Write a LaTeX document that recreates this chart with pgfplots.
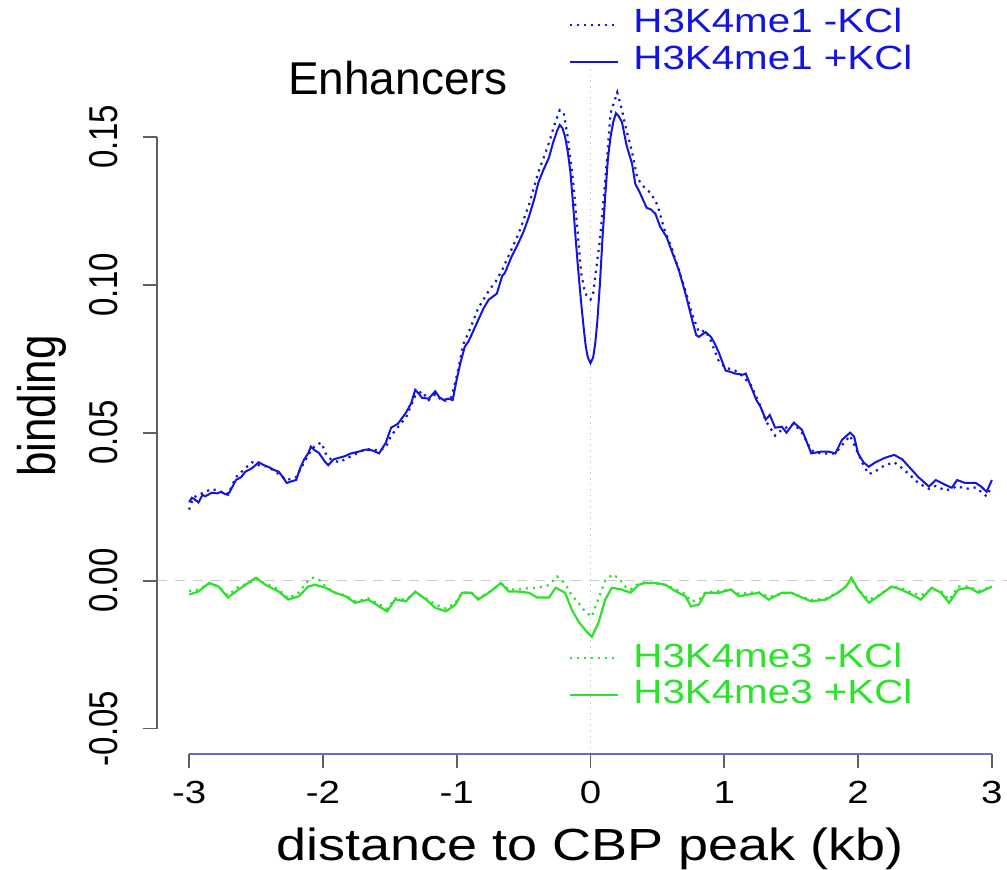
\documentclass[border=0pt]{standalone}
\usepackage{fontspec}
\setmainfont{Liberation Sans}
\newfontfamily\rfont[FakeStretch=1.2]{Liberation Sans}
\usepackage{pgfplots}
\pgfplotsset{compat=1.18}
\definecolor{hblue}{RGB}{20,20,225}
\definecolor{hgreen}{RGB}{45,225,45}
\definecolor{xaxcol}{RGB}{105,105,205}
\definecolor{yaxcol}{RGB}{95,95,95}
\begin{document}
\begin{tikzpicture}
\begin{axis}[
  at={(78.5pt,57.5pt)}, anchor=south west,
  scale only axis, width=433.5pt, height=343.5pt,
  xmin=-3.24, xmax=3.24, ymin=-0.0586, ymax=0.1736,
  clip=false,
  axis x line*=bottom, axis y line*=left,
  axis line style={draw=none},
  xtick={-3,...,3}, xticklabels={-3,-2,-1,0,1,2,3},
  ytick={-0.05,0,0.05,0.1,0.15}, yticklabels={-0.05,0.00,0.05,0.10,0.15},
  tick align=outside, major tick length=7pt,
  tick style={yaxcol, line width=0.9pt},
  xticklabel style={font=\rfont\fontsize{16}{16}\selectfont, anchor=north, inner sep=0pt, yshift=-6.5pt},
  yticklabel style={font=\fontsize{16.5}{16.5}\selectfont, xshift=-12.5pt, xscale=1.22, rotate=90, anchor=south, inner sep=0pt},
]
% reference lines
\draw[gray!40, dash pattern=on 5pt off 4pt, line width=0.6pt] (axis cs:-3.24,0) -- (axis cs:3.24,0);
\draw[gray!40, dotted, line width=0.8pt] (axis cs:0,-0.0586) -- (axis cs:0,0.1736);
% R style axis lines
\draw[yaxcol, line width=1pt] (axis cs:-3.24,-0.05) -- (axis cs:-3.24,0.15);
\draw[xaxcol, line width=1pt] (axis cs:-3,-0.0586) -- (axis cs:3,-0.0586);

% H3K4me1 +KCl
\addplot[hblue, line width=1pt] coordinates {
(-3.00,0.0265) (-2.98,0.028) (-2.96,0.0275) (-2.93,0.0264) (-2.90,0.029) (-2.88,0.0285)
(-2.83,0.0297) (-2.79,0.0295) (-2.76,0.030) (-2.73,0.0292) (-2.70,0.0297) (-2.65,0.034)
(-2.61,0.035) (-2.58,0.0368) (-2.53,0.038) (-2.48,0.040) (-2.44,0.039) (-2.41,0.0385)
(-2.37,0.0375) (-2.33,0.0368) (-2.30,0.035) (-2.27,0.033) (-2.24,0.0335) (-2.20,0.034)
(-2.17,0.038) (-2.14,0.041) (-2.11,0.043) (-2.09,0.0453) (-2.06,0.044) (-2.03,0.0432)
(-1.99,0.0405) (-1.96,0.039) (-1.92,0.041) (-1.88,0.0415) (-1.84,0.042) (-1.79,0.043)
(-1.74,0.0435) (-1.68,0.0443) (-1.63,0.044) (-1.58,0.043) (-1.53,0.0466) (-1.49,0.0517)
(-1.44,0.053) (-1.38,0.0567) (-1.34,0.060) (-1.31,0.0645) (-1.28,0.063) (-1.26,0.0618)
(-1.21,0.0615) (-1.16,0.064) (-1.13,0.062) (-1.10,0.0611) (-1.06,0.0615) (-1.03,0.061)
(-1.00,0.068) (-0.97,0.074) (-0.94,0.079) (-0.91,0.081) (-0.87,0.085) (-0.84,0.088)
(-0.80,0.092) (-0.76,0.095) (-0.73,0.096) (-0.70,0.097) (-0.68,0.100) (-0.66,0.103)
(-0.64,0.104) (-0.59,0.1095) (-0.54,0.114) (-0.50,0.118) (-0.46,0.123) (-0.42,0.129)
(-0.39,0.1345) (-0.35,0.139) (-0.31,0.143) (-0.28,0.148) (-0.25,0.152) (-0.23,0.154)
(-0.21,0.153) (-0.19,0.150) (-0.17,0.145) (-0.15,0.138) (-0.13,0.127) (-0.11,0.115)
(-0.09,0.104) (-0.07,0.094) (-0.05,0.085) (-0.035,0.079) (-0.02,0.0755) (0.00,0.0735)
(0.02,0.0755) (0.035,0.080) (0.05,0.087) (0.07,0.100) (0.09,0.116) (0.11,0.130) (0.13,0.1425)
(0.15,0.150) (0.17,0.155) (0.19,0.158) (0.21,0.157) (0.235,0.155) (0.27,0.147)
(0.31,0.141) (0.335,0.134) (0.36,0.132) (0.38,0.130) (0.42,0.126) (0.45,0.1255)
(0.485,0.124) (0.52,0.1197) (0.57,0.116) (0.61,0.111) (0.66,0.105) (0.71,0.097)
(0.76,0.088) (0.79,0.083) (0.81,0.0824) (0.86,0.084) (0.90,0.0824) (0.93,0.080)
(0.96,0.077) (1.01,0.071) (1.05,0.0705) (1.08,0.070) (1.14,0.0696) (1.16,0.070)
(1.20,0.0655) (1.24,0.061) (1.27,0.0588) (1.31,0.0544) (1.34,0.056) (1.38,0.0517)
(1.43,0.052) (1.465,0.050) (1.52,0.0534) (1.58,0.051) (1.61,0.0476) (1.65,0.043)
(1.72,0.0436) (1.78,0.0436) (1.83,0.043) (1.88,0.0476) (1.94,0.050) (1.97,0.0487)
(2.00,0.043) (2.04,0.040) (2.08,0.0385) (2.13,0.040) (2.20,0.0415) (2.27,0.0425)
(2.33,0.041) (2.38,0.0385) (2.45,0.035) (2.53,0.0318) (2.58,0.034) (2.65,0.0324)
(2.70,0.0314) (2.74,0.034) (2.80,0.033) (2.88,0.033) (2.92,0.0318) (2.96,0.030)
(3.00,0.034)
};
% H3K4me1 -KCl
\addplot[hblue, line width=1.1pt, dash pattern=on 1.1pt off 2.4pt] coordinates {
(-3.00,0.024) (-2.97,0.028) (-2.93,0.029) (-2.88,0.030) (-2.83,0.031) (-2.76,0.030)
(-2.71,0.029) (-2.65,0.035) (-2.58,0.038) (-2.53,0.040) (-2.48,0.039) (-2.41,0.0385)
(-2.33,0.036) (-2.27,0.034) (-2.20,0.035) (-2.14,0.040) (-2.09,0.044) (-2.05,0.046)
(-2.01,0.0466) (-1.98,0.043) (-1.94,0.041) (-1.88,0.040) (-1.79,0.042) (-1.68,0.0445)
(-1.58,0.044) (-1.53,0.045) (-1.49,0.049) (-1.42,0.053) (-1.38,0.055) (-1.31,0.0625)
(-1.26,0.064) (-1.21,0.061) (-1.16,0.063) (-1.10,0.0605) (-1.04,0.062) (-1.00,0.069)
(-0.95,0.080) (-0.91,0.084) (-0.84,0.092) (-0.76,0.098) (-0.71,0.101) (-0.66,0.105)
(-0.60,0.111) (-0.54,0.117) (-0.46,0.127) (-0.39,0.138) (-0.31,0.148) (-0.27,0.154)
(-0.23,0.159) (-0.20,0.158) (-0.17,0.150) (-0.13,0.135) (-0.10,0.120) (-0.07,0.104)
(-0.04,0.097) (0.00,0.095) (0.02,0.097) (0.05,0.108) (0.07,0.115) (0.11,0.135)
(0.15,0.158) (0.20,0.165) (0.23,0.160) (0.27,0.152) (0.31,0.145) (0.35,0.136)
(0.40,0.133) (0.45,0.131) (0.50,0.127) (0.55,0.119) (0.61,0.112) (0.66,0.105)
(0.71,0.098) (0.76,0.090) (0.81,0.084) (0.86,0.0845) (0.90,0.081) (0.96,0.074)
(1.01,0.072) (1.08,0.071) (1.14,0.069) (1.20,0.066) (1.27,0.059) (1.31,0.054)
(1.38,0.049) (1.43,0.051) (1.52,0.053) (1.58,0.050) (1.65,0.044) (1.72,0.043)
(1.83,0.043) (1.94,0.049) (2.00,0.043) (2.04,0.039) (2.08,0.036) (2.13,0.037)
(2.20,0.039) (2.27,0.040) (2.33,0.038) (2.38,0.036) (2.45,0.033) (2.53,0.031)
(2.58,0.032) (2.65,0.0305) (2.70,0.031) (2.74,0.032) (2.80,0.031) (2.88,0.0315)
(2.92,0.030) (2.96,0.0285) (3.00,0.032)
};
% H3K4me3 +KCl
\addplot[hgreen, line width=1.1pt] coordinates {
(-3.00,-0.0047) (-2.93,-0.0037) (-2.85,-0.0008) (-2.78,-0.002) (-2.71,-0.0057) (-2.63,-0.003)
(-2.56,-0.0008) (-2.50,0.001) (-2.43,-0.0014) (-2.33,-0.0037) (-2.26,-0.0064) (-2.18,-0.0053)
(-2.11,-0.002) (-2.06,-0.0014) (-1.98,-0.0024) (-1.91,-0.0041) (-1.83,-0.0053) (-1.76,-0.0075)
(-1.66,-0.0064) (-1.58,-0.0087) (-1.52,-0.0104) (-1.46,-0.0064) (-1.38,-0.007) (-1.31,-0.0037)
(-1.23,-0.0064) (-1.16,-0.0092) (-1.08,-0.0104) (-1.01,-0.0081) (-0.96,-0.0041) (-0.89,-0.0041)
(-0.84,-0.0064) (-0.76,-0.0041) (-0.67,-0.0008) (-0.61,-0.0037) (-0.54,-0.0037) (-0.46,-0.0041)
(-0.40,-0.0057) (-0.31,-0.0057) (-0.26,-0.0024) (-0.19,-0.0041) (-0.14,-0.0098) (-0.09,-0.0138)
(-0.03,-0.0172) (0.01,-0.019) (0.06,-0.0142) (0.11,-0.0064) (0.16,-0.0024) (0.23,-0.003)
(0.30,-0.0041) (0.36,-0.0014) (0.41,-0.0008) (0.49,-0.0008) (0.56,-0.0014) (0.64,-0.0037)
(0.71,-0.0053) (0.75,-0.0087) (0.81,-0.0081) (0.86,-0.0041) (0.96,-0.0041) (1.05,-0.003)
(1.11,-0.0053) (1.18,-0.0047) (1.26,-0.0041) (1.33,-0.0064) (1.43,-0.0041) (1.50,-0.0041)
(1.58,-0.0057) (1.65,-0.007) (1.76,-0.0064) (1.85,-0.0041) (1.91,-0.002) (1.95,0.001)
(2.00,-0.003) (2.08,-0.0075) (2.15,-0.0053) (2.25,-0.002) (2.32,-0.003) (2.40,-0.0047)
(2.47,-0.0064) (2.55,-0.0024) (2.62,-0.0041) (2.68,-0.0075) (2.75,-0.003) (2.83,-0.0024)
(2.90,-0.0041) (3.00,-0.002)
};
% H3K4me3 -KCl
\addplot[hgreen, line width=1.1pt, dash pattern=on 1.1pt off 2.4pt] coordinates {
(-3.00,-0.0035) (-2.93,-0.003) (-2.85,-0.001) (-2.78,-0.002) (-2.71,-0.005) (-2.63,-0.002)
(-2.56,-0.001) (-2.50,0.0005) (-2.43,-0.001) (-2.33,-0.003) (-2.26,-0.006) (-2.18,-0.004)
(-2.11,0.0) (-2.07,0.001) (-2.02,0.0) (-1.98,-0.002) (-1.91,-0.004) (-1.83,-0.005)
(-1.76,-0.007) (-1.66,-0.006) (-1.58,-0.008) (-1.52,-0.0095) (-1.46,-0.006) (-1.38,-0.0065)
(-1.31,-0.004) (-1.23,-0.006) (-1.16,-0.008) (-1.08,-0.0095) (-1.01,-0.0075) (-0.96,-0.004)
(-0.89,-0.004) (-0.84,-0.006) (-0.76,-0.004) (-0.67,-0.001) (-0.61,-0.003) (-0.54,-0.003)
(-0.46,-0.0025) (-0.40,-0.0025) (-0.31,-0.0015) (-0.25,0.0014) (-0.19,-0.001) (-0.14,-0.005)
(-0.09,-0.0075) (-0.04,-0.0105) (0.01,-0.0122) (0.06,-0.006) (0.11,0.0) (0.16,0.002)
(0.21,0.001) (0.26,-0.002) (0.30,-0.003) (0.36,-0.001) (0.41,-0.0005) (0.49,-0.001)
(0.56,-0.0015) (0.64,-0.003) (0.71,-0.0045) (0.75,-0.007) (0.81,-0.0065) (0.86,-0.004)
(0.96,-0.0035) (1.05,-0.003) (1.11,-0.0045) (1.18,-0.004) (1.26,-0.004) (1.33,-0.0055)
(1.43,-0.0045) (1.50,-0.004) (1.58,-0.0055) (1.65,-0.0065) (1.76,-0.006) (1.85,-0.004)
(1.91,-0.002) (1.95,0.0005) (2.00,-0.003) (2.08,-0.0065) (2.15,-0.005) (2.25,-0.002)
(2.32,-0.0025) (2.40,-0.004) (2.47,-0.005) (2.55,-0.003) (2.62,-0.0035) (2.68,-0.0065)
(2.75,-0.002) (2.83,-0.002) (2.90,-0.0035) (3.00,-0.002)
};
\end{axis}

% titles, labels and legends, in pixel units of the reference
\begin{scope}[x=0.5pt, y=-0.5pt, shift={(0pt,434.5pt)}]
\node[anchor=base, font=\fontsize{23}{23}\selectfont, inner sep=0pt] at (398,95) {Enhancers};
\node[anchor=base, font=\rfont\fontsize{22.5}{22.5}\selectfont, inner sep=0pt] at (590,860) {distance to CBP peak (kb)};
\node[xscale=1.2, rotate=90, anchor=base, font=\fontsize{22}{22}\selectfont, inner sep=0pt] at (55,406) {binding};
% top legend
\draw[hblue, line width=1.1pt, dash pattern=on 1.1pt off 2.4pt] (570,25) -- (618,25);
\draw[hblue, line width=1pt] (570,62) -- (618,62);
\node[anchor=base west, text=hblue, font=\rfont\fontsize{16.8}{16.8}\selectfont, inner sep=0pt] at (633,33) {H3K4me1 -KCl};
\node[anchor=base west, text=hblue, font=\rfont\fontsize{16.8}{16.8}\selectfont, inner sep=0pt] at (633,70) {H3K4me1 +KCl};
% bottom legend
\draw[hgreen, line width=1.1pt, dash pattern=on 1.1pt off 2.4pt] (570,658) -- (618,658);
\draw[hgreen, line width=1.1pt] (570,695) -- (618,695);
\node[anchor=base west, text=hgreen, font=\rfont\fontsize{16.8}{16.8}\selectfont, inner sep=0pt] at (633,667) {H3K4me3 -KCl};
\node[anchor=base west, text=hgreen, font=\rfont\fontsize{16.8}{16.8}\selectfont, inner sep=0pt] at (633,703) {H3K4me3 +KCl};
\end{scope}
\pgfresetboundingbox
\useasboundingbox (0,0) rectangle (503.5pt,434.5pt);
\end{tikzpicture}
\end{document}
